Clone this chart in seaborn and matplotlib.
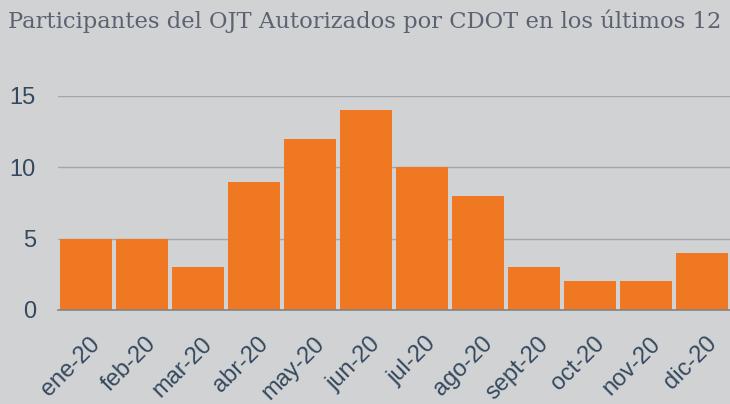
import matplotlib
matplotlib.use("Agg")
import matplotlib.pyplot as plt
import matplotlib.transforms as mtransforms
import seaborn as sns
import pandas as pd

# datos
meses = ["ene-20", "feb-20", "mar-20", "abr-20", "may-20", "jun-20",
         "jul-20", "ago-20", "sept-20", "oct-20", "nov-20", "dic-20"]
participantes = [5, 5, 3, 9, 12, 14, 10, 8, 3, 2, 2, 4]
titulo = "Participantes del OJT Autorizados por CDOT en los últimos 12"

df = pd.DataFrame({"mes": meses, "participantes": participantes})

bg = "#d1d2d4"
naranja = "#f07822"
texto = "#34495e"

sns.set_style("white")
plt.rcParams['font.family'] = ['Liberation Sans', 'DejaVu Sans']

fig = plt.figure(figsize=(7.3, 4.04), dpi=100, facecolor=bg)
ax = fig.add_axes([58 / 730, 1 - 310 / 404, 672 / 730, (310 - 96) / 404])
ax.set_facecolor(bg)

sns.barplot(data=df, x="mes", y="participantes", color=naranja,
            saturation=1, width=0.93, ax=ax, zorder=3, linewidth=0,
            edgecolor=naranja)

ax.set_ylim(0, 15)
ax.set_xlim(-0.5, 11.5)
ax.set_yticks([0, 5, 10, 15])
ax.yaxis.grid(True, color="#a3a7ab", linewidth=1, zorder=0)
ax.set_axisbelow(True)
for s in ["top", "right", "left"]:
    ax.spines[s].set_visible(False)
ax.spines["bottom"].set_color("#7f8488")
ax.spines["bottom"].set_linewidth(1.2)
ax.spines["bottom"].set_zorder(4)

ax.set_xlabel("")
ax.set_ylabel("")
ax.tick_params(axis="y", length=0, labelsize=17, labelcolor=texto, pad=16)
ax.tick_params(axis="x", length=0, labelsize=17, labelcolor=texto, pad=22)

# etiquetas del eje x inclinadas, desplazadas un poco a la derecha
desplaza = mtransforms.ScaledTranslation(11 / 100, 0, fig.dpi_scale_trans)
for lbl in ax.get_xticklabels():
    lbl.set_rotation(45)
    lbl.set_ha("right")
    lbl.set_va("center")
    lbl.set_rotation_mode("anchor")
    lbl.set_transform(lbl.get_transform() + desplaza)

fig.text(8 / 730, 1 - 28 / 404, titulo,
         fontsize=16.3, color="#5b6270", family=["DejaVu Serif"], va="baseline")

fig.savefig("out.png", dpi=100, facecolor=bg)
